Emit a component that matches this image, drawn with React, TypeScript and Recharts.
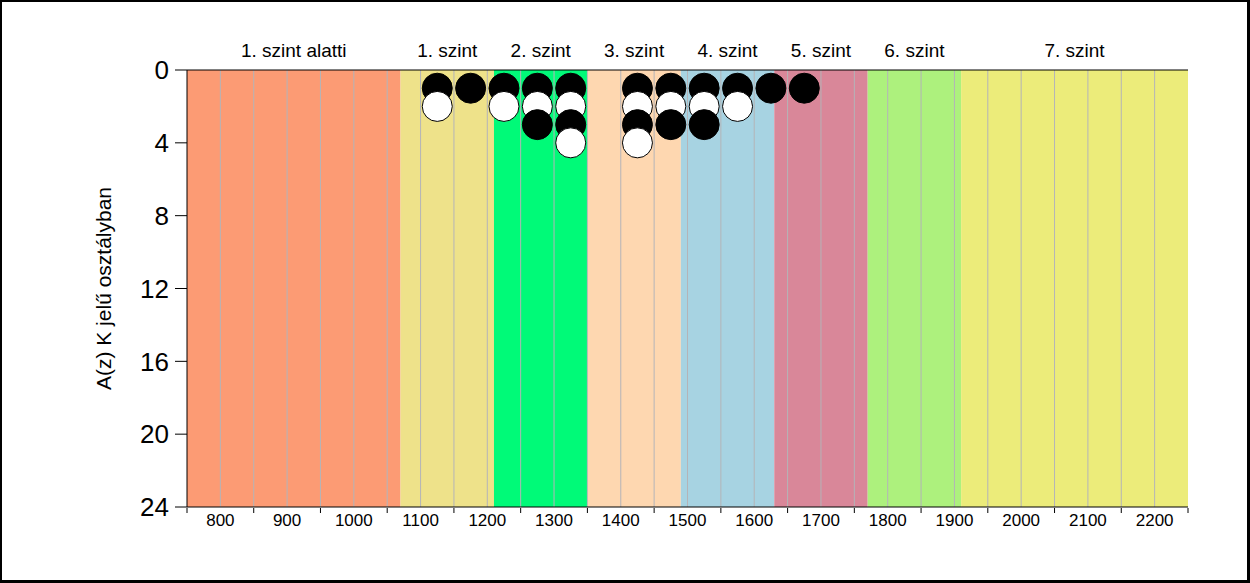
import { ScatterChart, Scatter, XAxis, YAxis, ReferenceArea, ReferenceLine } from "recharts";

// level bands (score ranges)
const bandStarts = [750, 1070, 1210, 1350, 1490, 1630, 1770, 1910];
const bandEnds = [1070, 1210, 1350, 1490, 1630, 1770, 1910, 2250];
const bandLabels = [
    "1. szint alatti",
    "1. szint",
    "2. szint",
    "3. szint",
    "4. szint",
    "5. szint",
    "6. szint",
    "7. szint",
];
const bandColors = ["#FC9B74", "#EEE28A", "#00FA78", "#FED7B0", "#A7D3E2", "#D98799", "#ADF17D", "#ECEC7A"];

const xTicks = [750, 800, 850, 900, 950, 1000, 1050, 1100, 1150, 1200, 1250, 1300, 1350, 1400, 1450, 1500, 1550, 1600, 1650, 1700, 1750, 1800, 1850, 1900, 1950, 2000, 2050, 2100, 2150, 2200, 2250];
const gridTicks = [800, 850, 900, 950, 1000, 1050, 1100, 1150, 1200, 1250, 1300, 1350, 1400, 1450, 1500, 1550, 1600, 1650, 1700, 1750, 1800, 1850, 1900, 1950, 2000, 2050, 2100, 2150, 2200];
const yTicks = [0, 4, 8, 12, 16, 20, 24];

// one dot per student: score bin and its place in the stack
const dotScores = [1125, 1125, 1175, 1225, 1225, 1275, 1275, 1275, 1325, 1325, 1325, 1325, 1425, 1425, 1425, 1425, 1475, 1475, 1475, 1525, 1525, 1525, 1575, 1575, 1625, 1675];
const dotCounts = [1, 2, 1, 1, 2, 1, 2, 3, 1, 2, 3, 4, 1, 2, 3, 4, 1, 2, 3, 1, 2, 3, 1, 2, 1, 1];

const dots = dotScores.map((score, i) => ({ score, count: dotCounts[i] }));

const font = "Arial, 'Liberation Sans', sans-serif";

const Dot = (props: any) => {
    const { cx, cy, payload } = props;
    const fill = payload.count % 2 === 1 ? "#000" : "#fff";
    return <circle cx={cx} cy={cy} r={15} fill={fill} stroke="#000" strokeWidth={1} />;
};

const BottomTick = (props: any) => {
    const { x, y, payload } = props;
    const v = payload.value;
    if (v % 100 === 0) {
        return (
            <text x={x} y={y} dy="0.71em" textAnchor="middle" fontSize={17} fill="#000" fontFamily={font}>
                {v}
            </text>
        );
    }
    return <line x1={x} x2={x} y1={y - 6} y2={y - 1} stroke="#000" />;
};

const NoTick = () => <g />;

const YTitle = (props: any) => {
    const { viewBox } = props;
    const cx = viewBox.x + viewBox.width - 84;
    const cy = viewBox.y + viewBox.height / 2;
    return (
        <text
            x={cx}
            y={cy}
            transform={`rotate(-90, ${cx}, ${cy})`}
            textAnchor="middle"
            dominantBaseline="central"
            fontSize={21}
            fill="#000"
            fontFamily={font}
        >
            A(z) K jelű osztályban
        </text>
    );
};

const App = () => {
    return (
        <div style={{ position: "absolute", left: 0, top: 0, width: 1250, height: 583, background: "#fff", fontFamily: font }}>
            <ScatterChart width={1250} height={583} margin={{ top: 0, right: 62, bottom: 0, left: 0 }}>
                <XAxis
                    dataKey="score"
                    type="number"
                    domain={[750, 2250]}
                    ticks={xTicks}
                    interval={0}
                    height={76}
                    tickLine={false}
                    tickSize={5}
                    tickMargin={2}
                    axisLine={{ stroke: "#000" }}
                    tick={BottomTick}
                />
                <XAxis
                    xAxisId="top"
                    orientation="top"
                    type="number"
                    domain={[750, 2250]}
                    ticks={xTicks}
                    interval={0}
                    height={70}
                    tickSize={7}
                    axisLine={{ stroke: "#000" }}
                    tickLine={{ stroke: "#000" }}
                    tick={NoTick}
                />
                <YAxis
                    dataKey="count"
                    type="number"
                    domain={[0, 24]}
                    reversed
                    ticks={yTicks}
                    interval={0}
                    width={187}
                    tickSize={12}
                    tickMargin={6}
                    axisLine={{ stroke: "#000" }}
                    tickLine={{ stroke: "#000" }}
                    tick={{ fontSize: 26, fill: "#000", fontFamily: font }}
                    label={{ content: YTitle }}
                />
                {bandStarts.map((start, i) => (
                    <ReferenceArea
                        key={bandLabels[i]}
                        x1={start}
                        x2={bandEnds[i]}
                        y1={0}
                        y2={24}
                        fill={bandColors[i]}
                        fillOpacity={1}
                        stroke="none"
                        label={{ value: bandLabels[i], position: "top", offset: 13, fontSize: 19, fill: "#000", fontFamily: font }}
                    />
                ))}
                {gridTicks.map((t) => (
                    <ReferenceLine key={t} x={t} stroke="#b4b4b8" strokeWidth={1} />
                ))}
                <Scatter data={dots} isAnimationActive={false} shape={Dot} />
            </ScatterChart>
            <div
                style={{
                    position: "absolute",
                    left: 0,
                    top: 0,
                    width: 1250,
                    height: 583,
                    boxSizing: "border-box",
                    borderStyle: "solid",
                    borderColor: "#000",
                    borderWidth: "2px 3px 3px 2px",
                    pointerEvents: "none",
                }}
            />
        </div>
    );
};

export default App;
